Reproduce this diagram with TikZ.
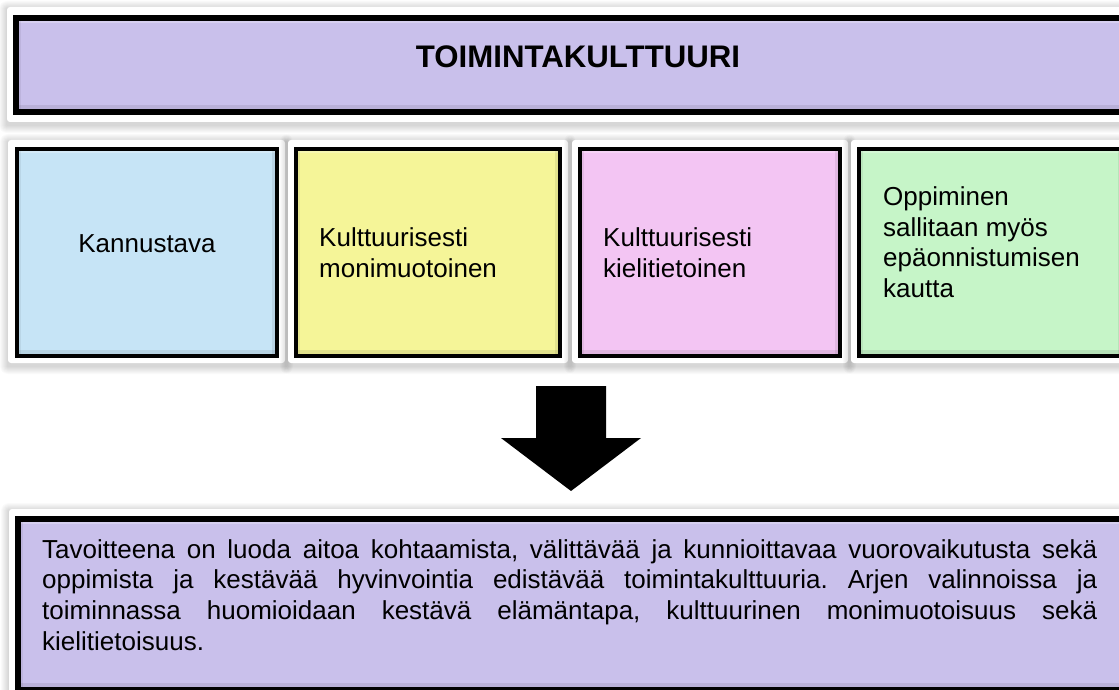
\documentclass[tikz,border=0pt]{standalone}
\usepackage{fontspec}
\setmainfont{Liberation Sans}
\definecolor{lav}{RGB}{201,192,235}
\definecolor{skyb}{RGB}{198,228,246}
\definecolor{lemon}{RGB}{245,245,152}
\definecolor{rose}{RGB}{243,197,243}
\definecolor{mint}{RGB}{198,245,200}
\newcommand\softshadow[4]{%
  \foreach \k in {1,...,8}{\fill[black,opacity=0.02,rounded corners=\k pt] (#1-\k,#2-\k+2) rectangle (#3+\k,#4+\k+3);}%
  \fill[white,rounded corners=3pt] (#1,#2) rectangle (#3,#4);%
}
\newcommand\bevel[2]{% node name, half line width
  \fill[white,opacity=.25] ([shift={(#2,#2)}]#1.north west) rectangle ([shift={(-#2,#2+2)}]#1.north east);
  \fill[black,opacity=.06] ([shift={(#2,#2)}]#1.north west) rectangle ([shift={(#2+2,-#2)}]#1.south west);
  \fill[black,opacity=.07] ([shift={(-#2-3,#2)}]#1.north east) rectangle ([shift={(-#2,-#2)}]#1.south east);
  \fill[black,opacity=.08] ([shift={(#2,-#2-4)}]#1.south west) rectangle ([shift={(-#2,-#2)}]#1.south east);
}
\begin{document}
\begin{tikzpicture}[x=1pt,y=-1pt,
  panel/.style={draw=black,rectangle,inner sep=0pt,outer sep=0pt,anchor=north west},
  lbl/.style={font=\fontsize{26}{30.5}\selectfont,inner sep=0pt,align=left,anchor=base west},
]
\useasboundingbox (0,0) rectangle (1119,690);
\fill[white] (0,0) rectangle (1119,690);

% title banner
\softshadow{7}{7}{1140}{122}
\node[panel,line width=6pt,fill=lav,minimum width=1114pt,minimum height=94pt] (top) at (16,18) {};
\bevel{top}{3}
\node[font=\fontsize{31.2}{36}\selectfont\bfseries,inner sep=0pt,anchor=base] (title) at (578,68) {TOIMINTAKULTTUURI};

% four boxes
\softshadow{8}{140}{285}{363}
\softshadow{288}{140}{568}{363}
\softshadow{572}{140}{848}{363}
\softshadow{851}{140}{1140}{363}
\node[panel,line width=4pt,fill=skyb,minimum width=260pt,minimum height=207pt] (b1) at (17,149) {};
\node[panel,line width=4pt,fill=lemon,minimum width=264pt,minimum height=207pt] (b2) at (296,149) {};
\node[panel,line width=4pt,fill=rose,minimum width=260pt,minimum height=207pt] (b3) at (580,149) {};
\node[panel,line width=4pt,fill=mint,minimum width=264pt,minimum height=207pt] (b4) at (859,149) {};
\bevel{b1}{2}\bevel{b2}{2}\bevel{b3}{2}\bevel{b4}{2}
\node[lbl,anchor=base] (t1) at (147,252) {Kannustava};
% multi-line nodes: base anchor = baseline of the last line
\node[lbl] (t2) at (319,277) {Kulttuurisesti\\monimuotoinen};
\node[lbl] (t3) at (603,277) {Kulttuurisesti\\kielitietoinen};
\node[lbl] (t4) at (883,297) {Oppiminen\\sallitaan myös\\epäonnistumisen\\kautta};

% block arrow
\fill[black] (536,386) -- (606,386) -- (606,438) -- (641,438) -- (571,491) -- (501,438) -- (536,438) -- cycle;

% bottom box
\softshadow{9}{509}{1140}{705}
\node[panel,line width=6pt,fill=lav,minimum width=1110pt,minimum height=171pt] (bot) at (18,519) {};
\bevel{bot}{3}
\node[lbl,font=\fontsize{26}{30.7}\selectfont,text width=1055pt,align=justify] (goal) at (42,558) {\frenchspacing\tolerance=9999\hyphenpenalty=10000\emergencystretch=20pt
Tavoitteena on luoda aitoa kohtaamista, välittävää ja kunnioittavaa vuorovaikutusta sekä\linebreak
oppimista ja kestävää hyvinvointia edistävää toimintakulttuuria. Arjen valinnoissa ja\linebreak
toiminnassa huomioidaan kestävä elämäntapa, kulttuurinen monimuotoisuus sekä\linebreak
kielitietoisuus.};
\end{tikzpicture}
\end{document}
